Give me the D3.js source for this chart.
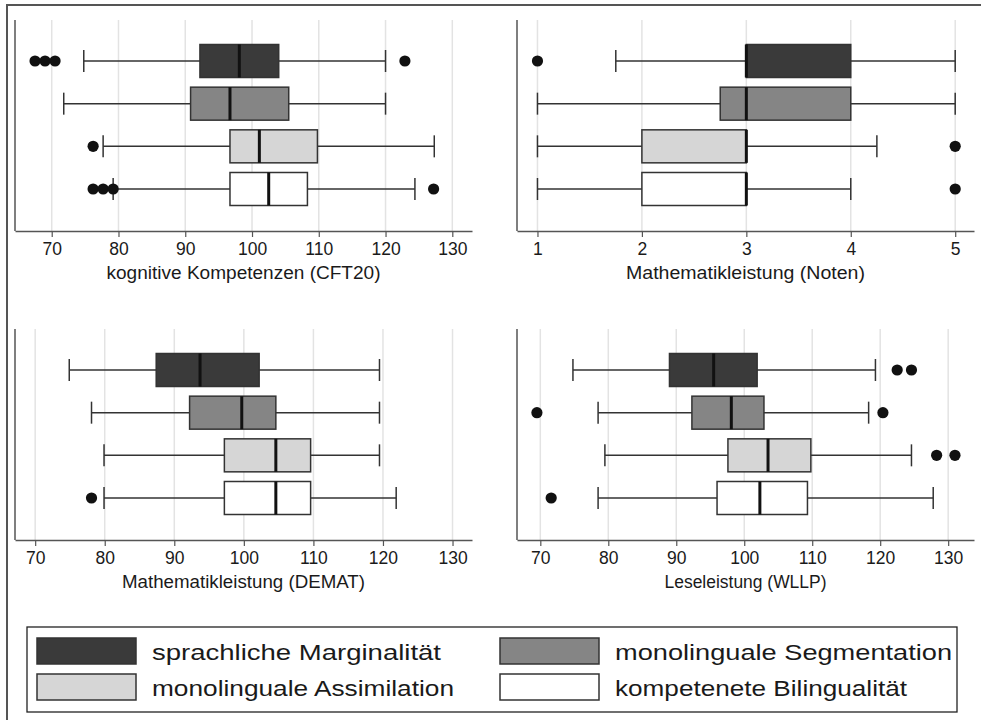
<!DOCTYPE html>
<html>
<head>
<meta charset="utf-8">
<script src="https://cdn.jsdelivr.net/npm/d3@7"></script>
<style>
  body { margin: 0; background: #fff; }
  svg { display: block; }
  text { font-family: "Liberation Sans", "DejaVu Sans", sans-serif; fill: #1a1a1a; }
</style>
</head>
<body>
<script>
(function(){

//groups (one box per group in every panel), top to bottom
var groups = ["sprachliche Marginalität", "monolinguale Segmentation", "monolinguale Assimilation", "kompetenete Bilingualität"];
var groupFills = ["#3a3a3a", "#858585", "#d6d6d6", "#ffffff"];

//box stats per group: [lower whisker, q1, median, q3, upper whisker]
var cftStats = [[74.8, 92.2, 98.1, 104.0, 120.0], [71.8, 90.8, 96.7, 105.5, 120.0], [77.7, 96.7, 101.1, 109.8, 127.3], [79.2, 96.7, 102.5, 108.3, 124.4]];
var cftOutliers = [[67.5, 69.0, 70.5, 122.9], [], [76.2], [76.2, 77.7, 79.2, 127.2]];
var cftTicks = [70, 80, 90, 100, 110, 120, 130];

var notenStats = [[1.75, 3, 3, 4, 5], [1, 2.75, 3, 4, 5], [1, 2, 3, 3, 4.25], [1, 2, 3, 3, 4]];
var notenOutliers = [[1], [], [5], [5]];
var notenTicks = [1, 2, 3, 4, 5];

var dematStats = [[74.9, 87.4, 93.7, 102.2, 119.5], [78.1, 92.2, 99.7, 104.6, 119.5], [79.9, 97.2, 104.6, 109.6, 119.5], [79.9, 97.2, 104.6, 109.6, 121.9]];
var dematOutliers = [[], [], [], [78.1]];
var dematTicks = [70, 80, 90, 100, 110, 120, 130];

var wllpStats = [[74.8, 89.0, 95.5, 101.9, 119.3], [78.5, 92.3, 98.1, 102.9, 118.3], [79.5, 97.6, 103.5, 109.8, 124.6], [78.5, 96.0, 102.3, 109.3, 127.8]];
var wllpOutliers = [[122.5, 124.6], [69.5, 120.4], [128.3, 131.0], [71.6]];
var wllpTicks = [70, 80, 90, 100, 110, 120, 130];

//panel frames (plot area in pixels) and x domains matching those frames
var panels = [
    {title: "kognitive Kompetenzen (CFT20)", stats: cftStats, outliers: cftOutliers, ticks: cftTicks,
     domain: [64.5, 132.95], x0: 15, x1: 472, y0: 20, y1: 231, titleLen: 274},
    {title: "Mathematikleistung (Noten)", stats: notenStats, outliers: notenOutliers, ticks: notenTicks,
     domain: [0.804, 5.18], x0: 517, x1: 974, y0: 20, y1: 231, titleLen: 239},
    {title: "Mathematikleistung (DEMAT)", stats: dematStats, outliers: dematOutliers, ticks: dematTicks,
     domain: [67.1, 132.8], x0: 15, x1: 472, y0: 329, y1: 540, titleLen: 243},
    {title: "Leseleistung (WLLP)", stats: wllpStats, outliers: wllpOutliers, ticks: wllpTicks,
     domain: [66.57, 133.8], x0: 517, x1: 974, y0: 329, y1: 540, titleLen: 162}
];

var width = 981, height = 720;

var svg = d3.select("body")
    .append("svg")
    .attr("width", width)
    .attr("height", height);

//outer frame, open to the right and bottom edges
svg.append("rect")
    .attr("x", 7)
    .attr("y", 5)
    .attr("width", width + 10)
    .attr("height", height + 10)
    .attr("fill", "none")
    .attr("stroke", "#555")
    .attr("stroke-width", 2);

panels.forEach(drawPanel);
drawLegend();

function drawPanel(p){
    var g = svg.append("g");

    var x = d3.scaleLinear()
        .domain(p.domain)
        .range([p.x0, p.x1]);

    var y = d3.scalePoint()
        .domain(d3.range(groups.length))
        .range([p.y0 + 41, p.y1 - 42]);

    var boxH = 33, capH = 22;

    //vertical grid lines
    g.selectAll(".grid")
        .data(p.ticks)
        .enter()
        .append("line")
        .attr("x1", function(d){ return x(d); })
        .attr("x2", function(d){ return x(d); })
        .attr("y1", p.y0)
        .attr("y2", p.y1)
        .attr("stroke", "#e3e3e3")
        .attr("stroke-width", 1.5);

    //x axis
    var axis = g.append("g")
        .attr("transform", "translate(0," + p.y1 + ")")
        .call(d3.axisBottom(x)
            .tickValues(p.ticks)
            .tickFormat(d3.format("d"))
            .tickSize(6)
            .tickSizeOuter(0)
            .tickPadding(6));
    axis.select(".domain").attr("stroke", "#555").attr("stroke-width", 1.5);
    axis.selectAll(".tick line").attr("stroke", "#555").attr("stroke-width", 1.2);
    axis.selectAll(".tick text")
        .attr("font-size", 17.5)
        .attr("fill", "#1a1a1a")
        .style("font-family", "'Liberation Sans', 'DejaVu Sans', sans-serif");

    //y axis line
    g.append("line")
        .attr("x1", p.x0)
        .attr("x2", p.x0)
        .attr("y1", p.y0)
        .attr("y2", p.y1)
        .attr("stroke", "#555")
        .attr("stroke-width", 1.5);

    //axis title
    g.append("text")
        .attr("x", (p.x0 + p.x1) / 2 - p.titleLen / 2)
        .attr("y", p.y1 + 48)
        .attr("font-size", 17.5)
        .attr("textLength", p.titleLen)
        .attr("lengthAdjust", "spacingAndGlyphs")
        .text(p.title);

    var rows = g.selectAll(".row")
        .data(p.stats)
        .enter()
        .append("g")
        .attr("class", "row");

    //whiskers
    rows.append("line")
        .attr("x1", function(d){ return x(d[0]); })
        .attr("x2", function(d){ return x(d[4]); })
        .attr("y1", function(d, i){ return y(i); })
        .attr("y2", function(d, i){ return y(i); })
        .attr("stroke", "#333")
        .attr("stroke-width", 1.5);

    [0, 4].forEach(function(k){
        rows.append("line")
            .attr("x1", function(d){ return x(d[k]); })
            .attr("x2", function(d){ return x(d[k]); })
            .attr("y1", function(d, i){ return y(i) - capH / 2; })
            .attr("y2", function(d, i){ return y(i) + capH / 2; })
            .attr("stroke", "#333")
            .attr("stroke-width", 1.5);
    });

    //boxes
    rows.append("rect")
        .attr("x", function(d){ return x(d[1]); })
        .attr("width", function(d){ return x(d[3]) - x(d[1]); })
        .attr("y", function(d, i){ return y(i) - boxH / 2; })
        .attr("height", boxH)
        .attr("fill", function(d, i){ return groupFills[i]; })
        .attr("stroke", "#333")
        .attr("stroke-width", 1.5);

    //medians
    rows.append("line")
        .attr("x1", function(d){ return x(d[2]); })
        .attr("x2", function(d){ return x(d[2]); })
        .attr("y1", function(d, i){ return y(i) - boxH / 2; })
        .attr("y2", function(d, i){ return y(i) + boxH / 2; })
        .attr("stroke", "#111")
        .attr("stroke-width", 3);

    //outliers
    rows.each(function(d, i){
        d3.select(this).selectAll("circle")
            .data(p.outliers[i])
            .enter()
            .append("circle")
            .attr("cx", function(v){ return x(v); })
            .attr("cy", y(i))
            .attr("r", 5.6)
            .attr("fill", "#111");
    });
};

function drawLegend(){
    var lg = svg.append("g");

    lg.append("rect")
        .attr("x", 27)
        .attr("y", 627)
        .attr("width", 930)
        .attr("height", 85)
        .attr("fill", "#fff")
        .attr("stroke", "#222")
        .attr("stroke-width", 1.3);

    var colX = [37, 500], rowY = [638, 674];
    var textLens = [289, 337, 302, 292];

    var items = lg.selectAll(".item")
        .data(groups)
        .enter()
        .append("g")
        .attr("class", "item")
        .attr("transform", function(d, i){
            return "translate(" + colX[i % 2] + "," + rowY[Math.floor(i / 2)] + ")";
        });

    items.append("rect")
        .attr("width", 99)
        .attr("height", 26)
        .attr("fill", function(d, i){ return groupFills[i]; })
        .attr("stroke", "#333")
        .attr("stroke-width", 1.5);

    items.append("text")
        .attr("x", 115)
        .attr("y", 21.5)
        .attr("font-size", 22)
        .attr("textLength", function(d, i){ return textLens[i]; })
        .attr("lengthAdjust", "spacingAndGlyphs")
        .text(function(d){ return d; });
};

})();
</script>
</body>
</html>
